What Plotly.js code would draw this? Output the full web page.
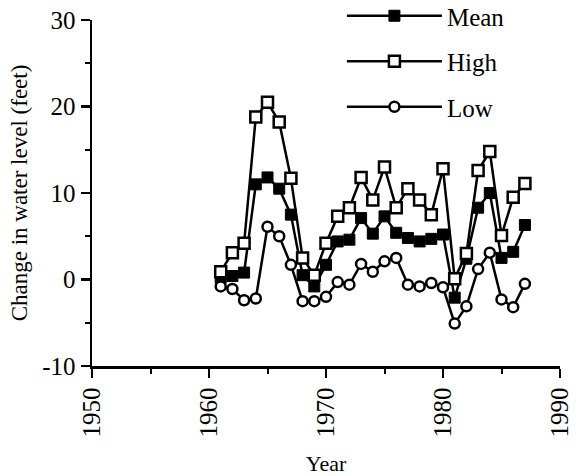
<!DOCTYPE html>
<html>
<head>
<meta charset="utf-8">
<script src="https://cdn.plot.ly/plotly-3.0.1.min.js"></script>
<style>html,body{margin:0;padding:0;background:#fff;}#chart{width:576px;height:476px;}</style>
</head>
<body>
<div id="chart"></div>
<script>
var years = [1961,1962,1963,1964,1965,1966,1967,1968,1969,1970,1971,1972,1973,1974,1975,1976,1977,1978,1979,1980,1981,1982,1983,1984,1985,1986,1987];
var meanVals = [0.2,0.4,0.8,11.0,11.8,10.5,7.5,0.5,-0.8,1.7,4.4,4.6,7.1,5.3,7.3,5.4,4.8,4.4,4.7,5.2,-2.1,2.4,8.3,10.0,2.5,3.2,6.3];
var highVals = [0.9,3.1,4.2,18.8,20.5,18.2,11.7,2.5,0.5,4.2,7.3,8.3,11.8,9.2,13.0,8.3,10.5,9.2,7.5,12.8,0.1,3.0,12.6,14.8,5.1,9.5,11.1];
var lowVals = [-0.8,-1.1,-2.4,-2.2,6.1,5.0,1.7,-2.5,-2.5,-2.0,-0.3,-0.6,1.8,0.9,2.1,2.5,-0.6,-0.8,-0.4,-0.9,-5.1,-3.1,1.2,3.1,-2.3,-3.2,-0.5];
var seriesNames = ['Mean','High','Low'];
var font = 'Liberation Serif, Times New Roman, serif';
var line = {color:'#000', width:2.5};
var traces = [
  {x:years, y:meanVals, name:seriesNames[0], legendgroup:'a', mode:'lines+markers', line:line,
   marker:{symbol:'square', size:11, color:'#000', line:{color:'#000', width:1}}},
  {x:years, y:highVals, name:seriesNames[1], legendgroup:'b', mode:'lines+markers', line:line,
   marker:{symbol:'square', size:11, color:'#fff', line:{color:'#000', width:2.5}}},
  {x:years, y:lowVals, name:seriesNames[2], legendgroup:'c', mode:'lines+markers', line:line,
   marker:{symbol:'circle', size:10, color:'#fff', line:{color:'#000', width:2.5}}}
];
var layout = {
  width:576, height:476,
  margin:{l:92, r:16, t:20, b:110, autoexpand:false},
  paper_bgcolor:'#fff', plot_bgcolor:'#fff',
  font:{family:font, color:'#000', size:24},
  showlegend:true,
  legend:{x:0.534, y:1.078, xanchor:'left', yanchor:'top', bgcolor:'rgba(0,0,0,0)',
          font:{family:font, size:25, color:'#000'}, itemwidth:95, tracegroupgap:10, traceorder:'grouped'},
  xaxis:{range:[1950,1990], tickvals:[1950,1960,1970,1980,1990], ticktext:['1950','1960','1970','1980','1990'],
         tickangle:-90, showgrid:false, zeroline:false, showline:true, linecolor:'#000', linewidth:2.5,
         ticks:'outside', ticklen:9, tickwidth:2.5, tickcolor:'#000', automargin:false,
         minor:{tickvals:[1955,1965,1975,1985], ticks:'outside', ticklen:5, tickwidth:2, tickcolor:'#000'},
         tickfont:{family:font, size:25, color:'#000'},
         title:{text:'Year', font:{family:font, size:22, color:'#000'}, standoff:20}},
  yaxis:{range:[-10,30], tickvals:[-10,0,10,20,30], ticktext:['-10','0','10','20','30'],
         showgrid:false, zeroline:false, showline:true, linecolor:'#000', linewidth:2.5,
         ticks:'outside', ticklen:9, tickwidth:2.5, tickcolor:'#000', automargin:false,
         minor:{tickvals:[-5,5,15,25], ticks:'outside', ticklen:5, tickwidth:2, tickcolor:'#000'},
         tickfont:{family:font, size:25, color:'#000'},
         title:{text:'Change in water level (feet)', font:{family:font, size:23, color:'#000'}, standoff:8}}
};
Plotly.newPlot('chart', traces, layout, {displayModeBar:false, staticPlot:true});
</script>
</body>
</html>
